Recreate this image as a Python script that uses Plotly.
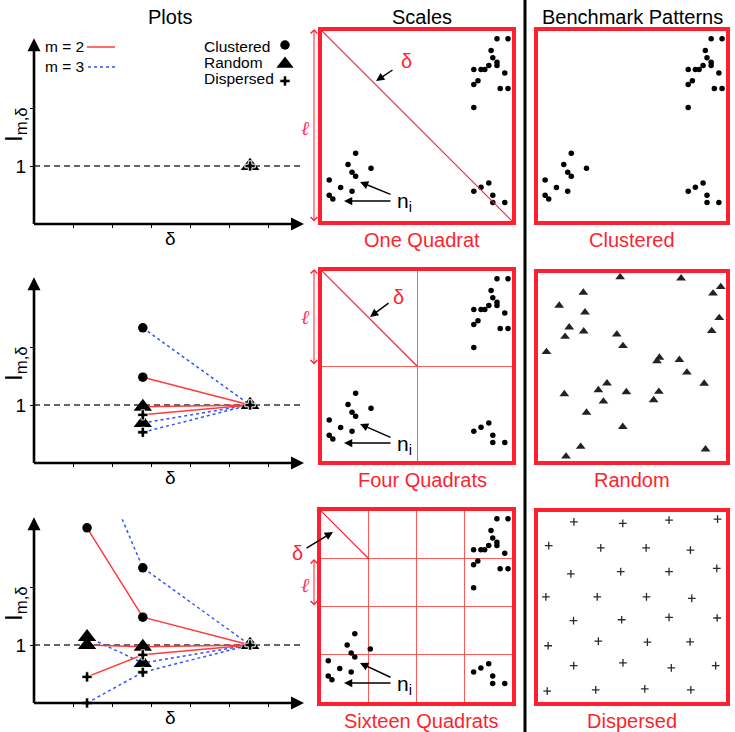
import plotly.graph_objects as go

W, H = 735, 732

# ---------------- data ----------------
column_titles = ["Plots", "Scales", "Benchmark Patterns"]
scale_labels = ["One Quadrat", "Four Quadrats", "Sixteen Quadrats"]
pattern_labels = ["Clustered", "Random", "Dispersed"]
cells_per_side = [1, 2, 4]

# delta positions: sixteen quadrats, four quadrats, one quadrat
delta_values = [1.36, 2.79, 5.54]
clustered_m2 = [3.02, 1.48, 1.00]
clustered_m3 = [4.60, 2.33, 1.00]
random_m2 = [1.00, 0.97, 1.00]
random_m3 = [1.14, 0.69, 1.00]
dispersed_m2 = [0.45, 0.83, 1.00]
dispersed_m3 = [0.00, 0.53, 1.00]
x_ticks = [1, 2, 3, 4, 5, 6]
y_ticks = [1, 2]
y_tick_text = ["1", ""]

clustered_x = [92.1, 97.9, 89.0, 89.9, 92.1, 92.1, 87.8, 85.7, 83.7, 79.9, 82.1, 79.9, 96.2, 93.8, 97.9, 79.9,
               79.9, 83.7, 87.8, 89.9, 89.9, 96.2,
               17.7, 13.7, 15.8, 17.7, 25.8, 3.8, 9.8, 15.8, 3.8, 5.7]
clustered_y = [95.9, 95.9, 89.8, 85.9, 83.6, 81.9, 81.9, 79.7, 79.7, 79.7, 73.8, 71.9, 77.9, 69.7, 69.7, 59.8,
               15.7, 17.8, 20.0, 13.6, 9.7, 9.7,
               35.7, 29.8, 25.7, 23.6, 27.8, 21.6, 17.6, 15.7, 13.6, 11.6]
random_x = [43.7, 76.1, 24.1, 97.2, 93.1, 11.3, 25.0, 96.4, 16.6, 24.3, 92.4, 14.4, 41.9, 45.2, 4.5, 64.6,
            63.3, 75.2, 79.2, 88.4, 36.7, 32.1, 47.0, 64.3, 14.0, 34.8, 61.5, 25.8, 45.1, 22.7, 89.1, 14.9]
random_y = [97.8, 97.2, 89.6, 92.6, 89.1, 82.7, 79.1, 76.1, 71.1, 69.0, 69.2, 66.1, 67.3, 61.2, 58.0, 55.0,
            53.1, 53.8, 47.1, 41.2, 41.3, 37.7, 36.7, 36.9, 35.6, 31.7, 32.4, 25.8, 18.2, 7.6, 6.2, 2.4]
dispersed_x = [19.1, 45.1, 69.7, 95.5, 5.7, 33.4, 57.5, 81.1, 17.5, 44.0, 69.7, 95.1, 4.2, 31.5, 57.7, 81.8,
               18.9, 44.5, 69.7, 95.3, 5.4, 32.1, 58.2, 80.9, 19.0, 45.2, 70.9, 94.5, 4.9, 30.7, 56.8, 81.3]
dispersed_y = [94.8, 94.0, 95.7, 96.2, 82.3, 81.1, 81.1, 79.9, 67.4, 68.6, 68.6, 70.3, 55.3, 55.3, 55.3, 54.5,
               42.8, 43.3, 44.5, 44.2, 29.6, 32.0, 31.5, 31.6, 19.1, 20.6, 18.0, 19.1, 5.7, 6.4, 6.9, 6.4]

# ---------------- styling / layout ----------------
RED = "#ff1f2e"
LINE_RED = "#ff3b3b"
LINE_BLUE = "#2f55ff"
FONT = "Liberation Sans, Arial, sans-serif"

def xd(a, b):
    return [a / W, b / W]

def yd(top, bottom):
    return [1 - bottom / H, 1 - top / H]

XMAX = 268 / 39
UNIT = 58
YMAX = 3.17
panel_bottoms = [224, 463, 703]
panel_indices = [[2], [1, 2], [0, 1, 2]]

fig = go.Figure()
layout = dict(width=W, height=H, margin=dict(l=0, r=0, t=0, b=0),
              paper_bgcolor="white", plot_bgcolor="rgba(0,0,0,0)", showlegend=False,
              font=dict(family=FONT, color="black"))
shapes = []
ann = []

# pixel overlay axis
layout["xaxis10"] = dict(domain=[0, 1], range=[0, W], visible=False, fixedrange=True, anchor="y10")
layout["yaxis10"] = dict(domain=[0, 1], range=[H, 0], visible=False, fixedrange=True, anchor="x10")


def A(**kw):
    d = dict(xref="x10", yref="y10", showarrow=False)
    d.update(kw)
    ann.append(d)


def arrow(tail, head, color="black", width=1.5, style=2, size=1.0, both=False):
    d = dict(xref="x10", yref="y10", axref="x10", ayref="y10", x=head[0], y=head[1],
             ax=tail[0], ay=tail[1], text="", showarrow=True, arrowhead=style,
             arrowsize=size, arrowwidth=width, arrowcolor=color)
    if both:
        d.update(arrowside="end+start", startarrowhead=style, startarrowsize=size)
    ann.append(d)


series = [
    (clustered_m2, LINE_RED, "solid"), (clustered_m3, LINE_BLUE, "dot"),
    (random_m2, LINE_RED, "solid"), (random_m3, LINE_BLUE, "dot"),
    (dispersed_m2, LINE_RED, "solid"), (dispersed_m3, LINE_BLUE, "dot"),
]
marker_groups = [
    ([clustered_m2, clustered_m3], dict(symbol="circle", size=9.5, color="black")),
    ([random_m2, random_m3], dict(symbol="triangle-up", size=16, color="black")),
    ([dispersed_m2, dispersed_m3], dict(symbol="cross", size=8.5, color="black",
                                         line=dict(color="white", width=0.8))),
]

for k, bottom in enumerate(panel_bottoms):
    s = "" if k == 0 else str(k + 1)
    top = bottom - YMAX * UNIT
    layout["xaxis" + s] = dict(domain=xd(34, 302), range=[0, XMAX], anchor="y" + s, showline=False,
                               ticks="outside", ticklen=3, tickwidth=1, tickcolor="black",
                               tickvals=x_ticks, showticklabels=False, showgrid=False,
                               zeroline=False, fixedrange=True)
    layout["yaxis" + s] = dict(domain=yd(top, bottom), range=[0, YMAX], anchor="x" + s, showline=False,
                               ticks="outside", ticklen=3, tickwidth=1, tickcolor="black",
                               tickvals=y_ticks, ticktext=y_tick_text, tickfont=dict(size=19),
                               showgrid=False, zeroline=False, fixedrange=True)
    idx = panel_indices[k]
    xs = [delta_values[i] for i in idx]
    # dashed reference line at 1
    shapes.append(dict(type="line", xref="x" + s, yref="y" + s, x0=0, x1=XMAX, y0=1, y1=1,
                       line=dict(color="#333333", width=1.3, dash="6px,4px"), layer="below"))
    for vals, col, dash in series:
        fig.add_trace(go.Scatter(x=xs, y=[vals[i] for i in idx], mode="lines",
                                 line=dict(color=col, width=1.5, dash=dash),
                                 xaxis="x" + s, yaxis="y" + s, hoverinfo="skip"))
    for groups, mk in marker_groups:
        for vals in groups:
            ys = [vals[i] for i in idx]
            op = [1 if v <= YMAX else 0 for v in ys]
            m = dict(mk)
            m["opacity"] = op
            fig.add_trace(go.Scatter(x=xs, y=ys, mode="markers", marker=m, cliponaxis=False,
                                     xaxis="x" + s, yaxis="y" + s, hoverinfo="skip"))
    # axis arrows
    arrow((34, bottom + 1.5), (34, top - 2), width=2.6, size=1.0)
    arrow((32.5, bottom), (304, bottom), width=2.6, size=1.0)
    A(x=170, y=bottom + 14, text="δ", font=dict(size=19))
    A(x=15, y=bottom - 99, text="I<sub>m,δ</sub>", textangle=-90, font=dict(size=24))

# legend (panel 1)
A(x=43, y=46, text="m = 2", xanchor="left", font=dict(size=15.5))
A(x=43, y=66, text="m = 3", xanchor="left", font=dict(size=15.5))
fig.add_trace(go.Scatter(x=[87, 115], y=[47, 47], mode="lines", line=dict(color=LINE_RED, width=1.5),
                         xaxis="x10", yaxis="y10", hoverinfo="skip"))
fig.add_trace(go.Scatter(x=[88, 117], y=[67, 67], mode="lines",
                         line=dict(color=LINE_BLUE, width=1.5, dash="dot"),
                         xaxis="x10", yaxis="y10", hoverinfo="skip"))
for lbl, yy in zip(pattern_labels, [46, 62, 78]):
    A(x=202, y=yy, text=lbl, xanchor="left", font=dict(size=15.5))
for yy, (_, mk) in zip([45, 64, 81], marker_groups):
    m = dict(mk)
    if m["symbol"] == "triangle-up":
        m["size"] = 15
    fig.add_trace(go.Scatter(x=[285], y=[yy], mode="markers", marker=m, xaxis="x10", yaxis="y10",
                             hoverinfo="skip"))

# titles
for t, xx in zip(column_titles, [170, 422, 632]):
    A(x=xx, y=17, text=t, font=dict(size=20))

# separator
shapes.append(dict(type="line", xref="paper", yref="paper", x0=525 / W, x1=525 / W, y0=0, y1=1,
                   line=dict(color="black", width=3)))

# ---------------- scale squares ----------------
sq_boxes = [(320, 514, 29, 223), (320, 514, 269, 463), (319, 514, 509, 704)]
bench_boxes = [(536, 728, 29, 223), (536, 728, 271, 463), (536, 728, 510, 704)]


def square_axes(n, box, cells):
    x0, x1, t, b = box
    grid = [100 * j / cells for j in range(1, cells)]
    common = dict(range=[0, 100], showline=True, mirror=True, linecolor=RED, linewidth=4,
                  ticks="", showticklabels=False, zeroline=False, fixedrange=True,
                  showgrid=True, gridcolor="#ff5a5a", gridwidth=1, tickvals=grid)
    layout["xaxis%d" % n] = dict(domain=xd(x0 + 2, x1 - 2), anchor="y%d" % n, **common)
    layout["yaxis%d" % n] = dict(domain=yd(t + 2, b - 2), anchor="x%d" % n, **common)


for i, (box, cells) in enumerate(zip(sq_boxes, cells_per_side)):
    n = 4 + i
    square_axes(n, box, cells)
    shapes.append(dict(type="line", xref="x%d" % n, yref="y%d" % n, x0=0, y0=100,
                       x1=100 / cells, y1=100 - 100 / cells, line=dict(color=RED, width=1.2)))
    fig.add_trace(go.Scatter(x=clustered_x, y=clustered_y, mode="markers",
                             marker=dict(symbol="circle", size=5.5, color="black"),
                             xaxis="x%d" % n, yaxis="y%d" % n, hoverinfo="skip"))
    A(x=(box[0] + box[1]) / 2 + 5, y=box[3] + 17, text=scale_labels[i], font=dict(size=20, color=RED))

for i, box in enumerate(bench_boxes):
    n = 7 + i
    square_axes(n, box, 1)
    A(x=(box[0] + box[1]) / 2, y=box[3] + 17, text=pattern_labels[i], font=dict(size=20, color=RED))

fig.add_trace(go.Scatter(x=clustered_x, y=clustered_y, mode="markers",
                         marker=dict(symbol="circle", size=5.5, color="black"),
                         xaxis="x7", yaxis="y7", hoverinfo="skip"))
fig.add_trace(go.Scatter(x=random_x, y=random_y, mode="markers",
                         marker=dict(symbol="triangle-up", size=8.5, color="#222222"),
                         xaxis="x8", yaxis="y8", hoverinfo="skip"))
fig.add_trace(go.Scatter(x=dispersed_x, y=dispersed_y, mode="markers",
                         marker=dict(symbol="cross-thin", size=5.5, color="#2a2a2a",
                                     line=dict(color="#2a2a2a", width=1.3)),
                         xaxis="x9", yaxis="y9", hoverinfo="skip"))

# annotations on scale squares
ELL = "#ff3366"
delta_marks = [((406, 61), (394, 69), (376, 81)),
               ((398, 297), (390, 302), (370, 317)),
               ((297, 553), (305, 549), (333, 532))]
ell_marks = [(29, 223, 128), (269, 366, 317), (559, 607, 585)]
ni_marks = [(200, 195, 182, 201), (443, 438, 424, 443), (683, 678, 663, 683)]
for (dt, dtail, dhead), (e0, e1, ey), (ny, t1, h1, t2) in zip(delta_marks, ell_marks, ni_marks):
    A(x=dt[0], y=dt[1], text="δ", font=dict(size=20, color=RED))
    arrow(dtail, dhead, width=1.5, style=2, size=1.1)
    arrow((314, e1), (314, e0), color=RED, width=1, style=4, size=1.3, both=True)
    A(x=305, y=ey, text="<i>ℓ</i>", font=dict(size=20, color=ELL, family="DejaVu Serif, serif"))
    A(x=404, y=ny + 2, text="n<sub>i</sub>", font=dict(size=21))
    arrow((392, t1), (360, h1), width=1.5, style=2, size=1.1)
    arrow((392, t2), (344, t2), width=1.5, style=2, size=1.1)

layout["shapes"] = shapes
layout["annotations"] = ann
fig.update_layout(**layout)
fig.write_html("out.html", config={"displayModeBar": False},
               post_script="document.body.style.margin='0';document.body.style.overflow='hidden';")
